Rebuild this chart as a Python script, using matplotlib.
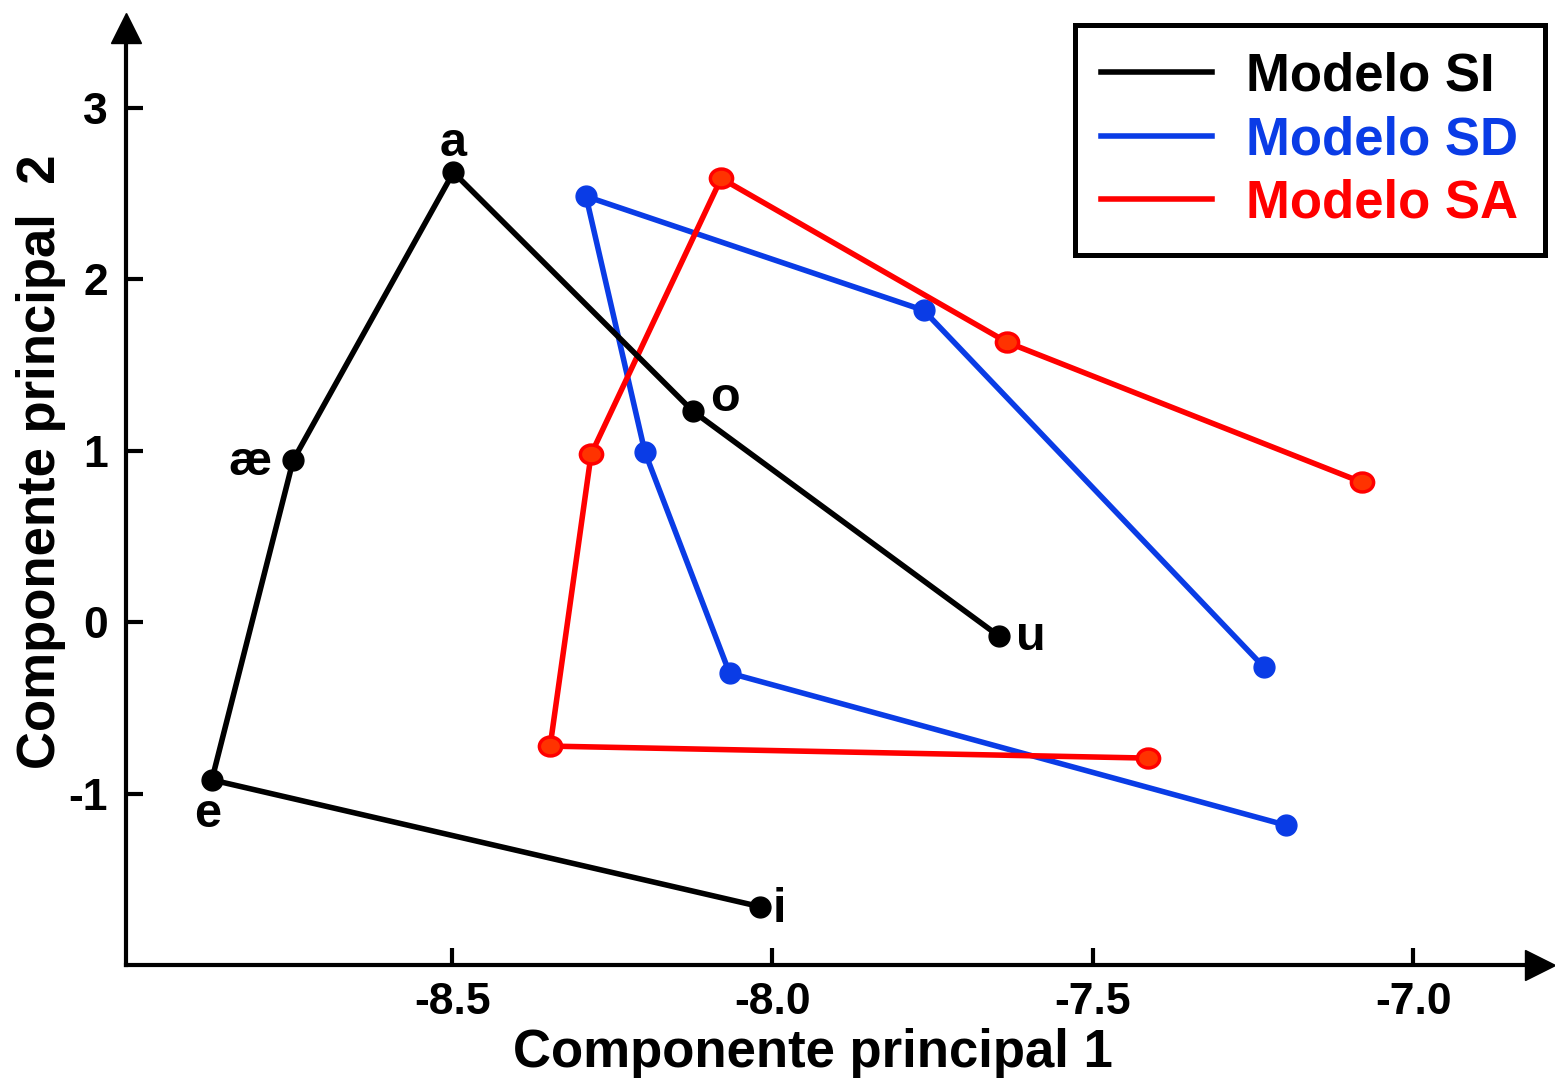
import numpy as np
import matplotlib
matplotlib.use('Agg')
import matplotlib.pyplot as plt
from matplotlib.path import Path

plt.rcParams['font.family'] = ['Liberation Sans', 'DejaVu Sans']
plt.rcParams['font.weight'] = 'bold'

# vowel order along each polyline
vowels = ['i', 'e', 'æ', 'a', 'o', 'u']

si_x = [-8.019, -8.875, -8.748, -8.498, -8.124, -7.647]
si_y = [-1.66, -0.92, 0.945, 2.624, 1.23, -0.08]

sd_x = [-7.199, -8.067, -8.199, -8.291, -7.764, -7.233]
sd_y = [-1.184, -0.297, 0.991, 2.484, 1.819, -0.262]

sa_x = [-7.414, -8.347, -8.283, -8.080, -7.634, -7.080]
sa_y = [-0.793, -0.723, 0.980, 2.589, 1.633, 0.816]

x_ticks = [-8.5, -8.0, -7.5, -7.0]
y_ticks = [-1, 0, 1, 2, 3]

# label offsets (points) for SI vowels
offsets = {'i': (14, -2), 'e': (-3, -25), 'æ': (-31, -2),
           'a': (0, 21), 'o': (23, 9), 'u': (23, -1)}

BLUE = '#0a3ce6'
RED = '#ff0000'

W, H = 1555, 1081
fig = plt.figure(figsize=(W / 100, H / 100), dpi=100)
l, r, t, b = 126, 1540, 28, 965
ax = fig.add_axes([l / W, 1 - b / H, (r - l) / W, (b - t) / H])

ax.set_xlim(-9.009, -6.802)
ax.set_ylim(-2.0, 3.466)

lw = 4.0
ax.plot(si_x, si_y, '-', color='black', lw=lw, label='Modelo SI', zorder=3)
ax.plot(si_x, si_y, 'o', color='black', ms=15, zorder=3)
ax.plot(sd_x, sd_y, '-', color=BLUE, lw=lw, label='Modelo SD', zorder=2)
ax.plot(sd_x, sd_y, 'o', color=BLUE, ms=15, zorder=2)

ell = Path.unit_circle()
ell = Path(ell.vertices * np.array([1.0, 0.85]), ell.codes)
ax.plot(sa_x, sa_y, '-', color=RED, lw=lw, label='Modelo SA', zorder=2)
ax.plot(sa_x, sa_y, ls='none', marker=ell, ms=16, mfc='#ff3300', mec=RED,
        mew=2.5, zorder=2)

for v, x, y in zip(vowels, si_x, si_y):
    ax.annotate(v, (x, y), xytext=offsets[v], textcoords='offset points',
                ha='center', va='center', fontsize=35, fontweight='bold')

for s in ['top', 'right']:
    ax.spines[s].set_visible(False)
for s in ['left', 'bottom']:
    ax.spines[s].set_linewidth(3.0)

# arrow heads on axes
ax.plot([1], [0], marker='>', ms=21.6, color='black', transform=ax.transAxes,
        clip_on=False)
ax.plot([0], [1], marker='^', ms=21.6, color='black', transform=ax.transAxes,
        clip_on=False)

ax.set_xticks(x_ticks)
ax.set_xticklabels([f'{v:.1f}' for v in x_ticks])
ax.set_yticks(y_ticks)
ax.set_yticklabels([str(v) for v in y_ticks])
ax.tick_params(direction='in', length=12, width=3.0, labelsize=32)
ax.tick_params(axis='x', pad=12)
ax.tick_params(axis='y', pad=13)
for lab in ax.get_xticklabels() + ax.get_yticklabels():
    lab.set_fontweight('bold')

fig.text(813 / W, 1 - 1053 / H, 'Componente principal 1', ha='center',
         va='center', fontsize=38, fontweight='bold')
fig.text(41 / W, 1 - 462 / H, 'Componente principal  2', ha='center',
         va='center', rotation=90, fontsize=38, fontweight='bold')

leg = ax.legend(loc='upper right', bbox_to_anchor=(1545 / W, 1 - 25 / H),
                bbox_transform=fig.transFigure, fontsize=38, frameon=True,
                fancybox=False, framealpha=1, handlelength=2.1,
                handletextpad=0.65, labelspacing=0.26, borderpad=0.5,
                borderaxespad=0)
leg.get_frame().set_edgecolor('black')
leg.get_frame().set_linewidth(3.6)
for txt, c in zip(leg.get_texts(), ['black', BLUE, RED]):
    txt.set_color(c)
    txt.set_fontweight('bold')

fig.savefig('out.png', dpi=100)
